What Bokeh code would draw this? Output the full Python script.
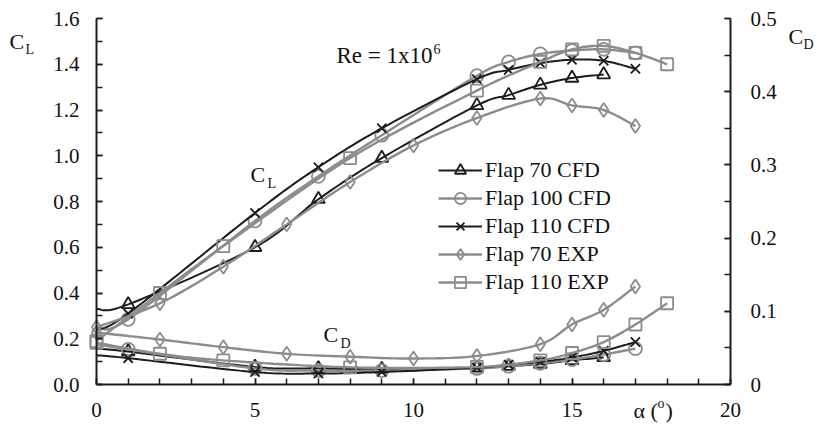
import numpy as np
from bokeh.plotting import figure
from bokeh.models import (Range1d, LinearAxis, SingleIntervalTicker, Label,
                          Legend, LegendItem, NumeralTickFormatter)
from bokeh.embed import file_html
from bokeh.resources import INLINE

# ---------------- data ----------------
alpha_70cfd = [0, 1, 5, 7, 9, 12, 13, 14, 15, 16]
cl_70cfd = [0.33, 0.35, 0.60, 0.81, 0.99, 1.22, 1.265, 1.31, 1.34, 1.355]
cd_70cfd = [0.049, 0.045, 0.024, 0.022, 0.021, 0.023, 0.025, 0.028, 0.033, 0.037]

alpha_100cfd = [0, 1, 5, 7, 9, 12, 13, 14, 15, 16, 17]
cl_100cfd = [0.25, 0.285, 0.715, 0.91, 1.09, 1.35, 1.41, 1.445, 1.46, 1.465, 1.45]
cd_100cfd = [0.055, 0.048, 0.022, 0.019, 0.019, 0.022, 0.025, 0.029, 0.034, 0.041, 0.049]

alpha_110cfd = [0, 1, 5, 7, 9, 12, 13, 14, 15, 16, 17]
cl_110cfd = [0.24, 0.31, 0.75, 0.95, 1.12, 1.335, 1.375, 1.405, 1.42, 1.415, 1.38]
cd_110cfd = [0.040, 0.036, 0.017, 0.015, 0.017, 0.023, 0.027, 0.031, 0.037, 0.046, 0.058]

alpha_70exp = [0, 2, 4, 6, 8, 10, 12, 14, 15, 16, 17]
cl_70exp = [0.25, 0.355, 0.515, 0.70, 0.885, 1.045, 1.165, 1.25, 1.22, 1.20, 1.13]
cd_70exp = [0.071, 0.0615, 0.051, 0.042, 0.038, 0.0355, 0.039, 0.055, 0.082, 0.102, 0.134]

alpha_110exp = [0, 2, 4, 8, 12, 14, 15, 16, 17, 18]
cl_110exp = [0.19, 0.40, 0.605, 0.99, 1.285, 1.41, 1.465, 1.48, 1.45, 1.40]
cd_110exp = [0.057, 0.042, 0.033, 0.0235, 0.024, 0.033, 0.043, 0.058, 0.082, 0.111]

series_names = ["Flap 70 CFD", "Flap 100 CFD", "Flap 110 CFD", "Flap 70 EXP", "Flap 110 EXP"]

X_MIN, X_MAX = 0, 20
CL_MIN, CL_MAX = 0, 1.6
CD_MIN, CD_MAX = 0, 0.5

FONT = "Liberation Serif"
BLACK = "#1c1c1c"
GRAY = "#8c8c8c"
TXT = "#111111"

# ---------------- layout (page pixels) ----------------
W, H = 817, 427
AX_L, AX_R, AX_T, AX_B = 96, 730, 18, 384   # where the axes sit

kx = (AX_R - AX_L) / (X_MAX - X_MIN)
ky = (AX_B - AX_T) / (CL_MAX - CL_MIN)
x_lo = X_MIN - AX_L / kx
x_hi = X_MAX + (W - AX_R) / kx
y_lo = CL_MIN - (H - AX_B) / ky
y_hi = CL_MAX + AX_T / ky
r = (CD_MAX - CD_MIN) / (CL_MAX - CL_MIN)


def px_x(px):
    return X_MIN + (px - AX_L) / kx


def px_y(py):
    return CL_MIN + (AX_B - py) / ky


def smooth(xs, ys, steps=14):
    """Excel-style smoothed line (cubic Bezier through the points)."""
    P = np.column_stack([np.asarray(xs, float), np.asarray(ys, float)])
    n = len(P)
    ext = np.vstack([P[0], P, P[-1]])
    out = [P[0]]
    t = np.linspace(0, 1, steps + 1)[1:]
    for i in range(n - 1):
        p0, p1, p2, p3 = ext[i], ext[i + 1], ext[i + 2], ext[i + 3]
        c1 = p1 + (p2 - p0) / 6.0
        c2 = p2 - (p3 - p1) / 6.0
        for tt in t:
            b = ((1 - tt) ** 3) * p1 + 3 * ((1 - tt) ** 2) * tt * c1 + 3 * (1 - tt) * tt ** 2 * c2 + tt ** 3 * p2
            out.append(b)
    out = np.array(out)
    return out[:, 0], out[:, 1]


p = figure(width=W, height=H, output_backend="svg", toolbar_location=None,
           x_range=Range1d(x_lo, x_hi), y_range=Range1d(y_lo, y_hi),
           min_border=0, min_border_left=0, min_border_right=0,
           min_border_top=0, min_border_bottom=0,
           x_axis_type=None, y_axis_type=None)
p.title.visible = False
p.extra_y_ranges = {"cd": Range1d(y_lo * r, y_hi * r)}
p.outline_line_color = None
p.xgrid.visible = False
p.ygrid.visible = False
p.background_fill_color = "white"
p.border_fill_color = "white"


def style_axis(ax, standoff):
    ax.axis_line_width = 2
    ax.axis_line_color = BLACK
    ax.major_tick_in = 6
    ax.major_tick_out = 0
    ax.minor_tick_in = 6
    ax.minor_tick_out = 0
    ax.major_tick_line_width = 1.5
    ax.minor_tick_line_width = 1.5
    ax.major_tick_line_color = BLACK
    ax.minor_tick_line_color = BLACK
    ax.major_label_text_font = FONT
    ax.major_label_text_font_size = "21px"
    ax.major_label_text_color = TXT
    ax.major_label_standoff = standoff


xax = LinearAxis(ticker=SingleIntervalTicker(interval=5, num_minor_ticks=5),
                 fixed_location=CL_MIN, bounds=(X_MIN, X_MAX))
style_axis(xax, 18)
p.add_layout(xax, "below")

yl = LinearAxis(ticker=SingleIntervalTicker(interval=0.2, num_minor_ticks=2),
                formatter=NumeralTickFormatter(format="0.0"),
                fixed_location=X_MIN, bounds=(CL_MIN, CL_MAX))
style_axis(yl, 17)
p.add_layout(yl, "left")

yr = LinearAxis(y_range_name="cd", ticker=SingleIntervalTicker(interval=0.1, num_minor_ticks=2),
                fixed_location=X_MAX, bounds=(CD_MIN, CD_MAX))
style_axis(yr, 20)
yr.major_label_overrides = {0: "0"}
p.add_layout(yr, "right")

# (data arrays, colour, marker, size, line width, first marker index)
series = [
    (alpha_70cfd, cl_70cfd, cd_70cfd, BLACK, "triangle", 13, 2.0, 1),
    (alpha_100cfd, cl_100cfd, cd_100cfd, GRAY, "circle", 13, 2.4, 1),
    (alpha_110cfd, cl_110cfd, cd_110cfd, BLACK, "x", 13, 2.0, 1),
    (alpha_70exp, cl_70exp, cd_70exp, GRAY, "diamond", 14, 2.4, 0),
    (alpha_110exp, cl_110exp, cd_110exp, GRAY, "square", 12, 2.4, 0),
]

items = []
for name, (a, cl, cd, col, mk, sz, lw, start) in zip(series_names, series):
    sx, sy = smooth(a, cl)
    l1 = p.line(sx, sy, line_color=col, line_width=lw)
    sx2, sy2 = smooth(a, cd)
    p.line(sx2, sy2, line_color=col, line_width=lw, y_range_name="cd")
    s1 = p.scatter(a[start:], cl[start:], marker=mk, size=sz, line_color=col,
                   fill_color=None, line_width=1.8)
    p.scatter(a[start:], cd[start:], marker=mk, size=sz, line_color=col,
              fill_color=None, line_width=1.8, y_range_name="cd")
    items.append(LegendItem(label=name, renderers=[l1, s1]))

ROW = 28
leg_top = 156
legend = Legend(items=items, location=(438, H - (leg_top + 5 * ROW)),
                glyph_width=44, glyph_height=ROW,
                label_height=ROW, label_standoff=3, spacing=0, padding=0, margin=0,
                border_line_color=None, background_fill_alpha=0,
                label_text_font=FONT, label_text_font_size="22px",
                label_text_color=TXT)
p.add_layout(legend, "center")


def lab(px, py, t, size="22px"):
    p.add_layout(Label(x=px_x(px), y=px_y(py), text=t, text_font=FONT, text_font_size=size,
                       text_baseline="middle", text_align="left", text_color=TXT))


# C_L (left axis title)
lab(9, 41, "C")
lab(25, 49, "L", "14px")
# C_D (right axis title)
lab(788, 36, "C")
lab(803, 44, "D", "14px")
# curve labels
lab(250, 174, "C")
lab(267, 183, "L", "14px")
lab(323, 334, "C")
lab(340, 343, "D", "14px")
# Reynolds number
lab(336, 55, "Re = 1x10", "23px")
lab(433, 48, "6", "14px")
# x axis title
lab(633, 410, "α (")
lab(657, 403, "o", "14px")
lab(665, 410, ")")

open("out.html", "w").write(file_html(p, INLINE))
